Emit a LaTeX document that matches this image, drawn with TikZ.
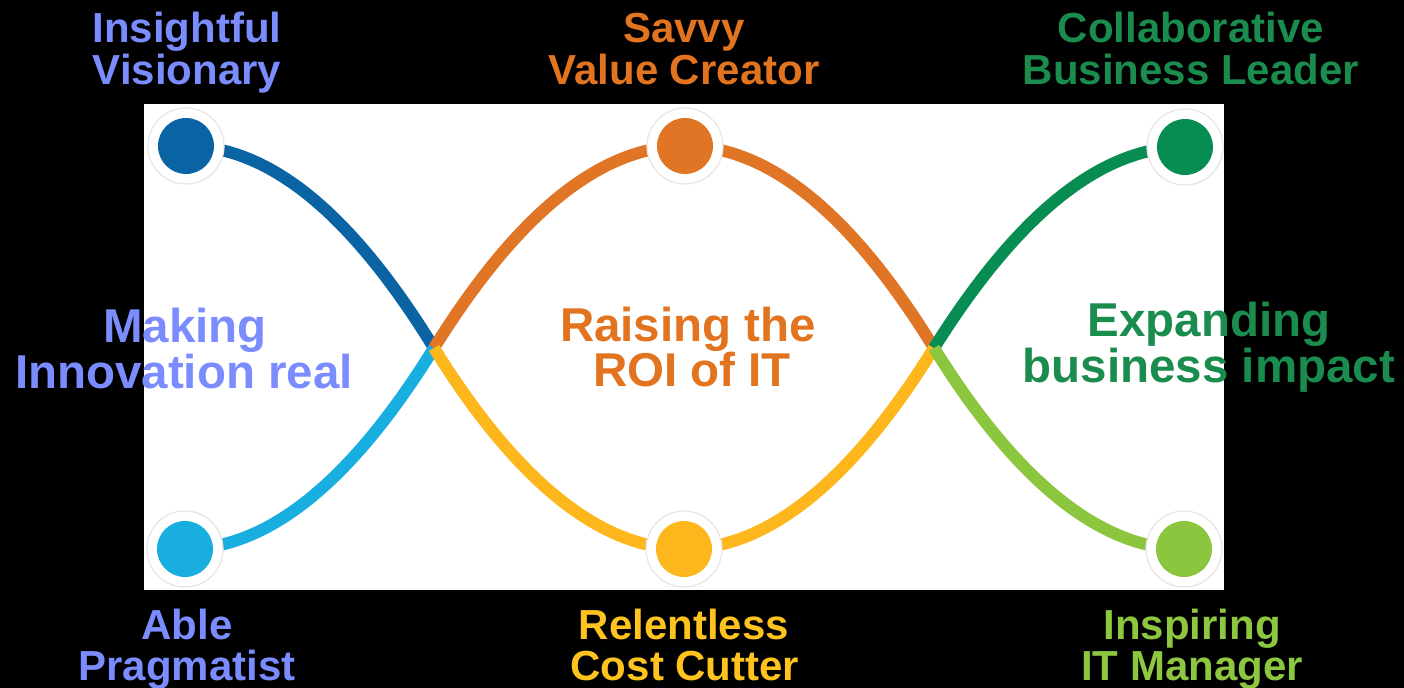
\documentclass[tikz,border=0pt]{standalone}
\usepackage{fontspec}
\setmainfont{Liberation Sans}
\definecolor{dblue}{HTML}{0A64A4}
\definecolor{lblue}{HTML}{19AEE0}
\definecolor{orng}{HTML}{E07526}
\definecolor{yllw}{HTML}{FDB71C}
\definecolor{dgreen}{HTML}{078C52}
\definecolor{lgreen}{HTML}{8CC63F}
\definecolor{tblue}{HTML}{7B8CFF}
\definecolor{torng}{HTML}{E27420}
\definecolor{tgreen}{HTML}{1A8C4E}
\definecolor{tyllw}{HTML}{FFC31F}
\definecolor{tlgreen}{HTML}{8DC63F}
\definecolor{ringgray}{HTML}{EAE4E4}
\begin{document}
\begin{tikzpicture}[x=0.5pt,y=-0.5pt,
  curve/.style={line width=6pt},
  ring/.style={circle,fill=white,draw=ringgray,line width=0.6pt,minimum size=38pt,inner sep=0pt},
  dot/.style={circle,minimum size=28pt,inner sep=0pt},
  corner/.style={anchor=base,inner sep=0pt,font=\bfseries\fontsize{21}{21}\selectfont},
  middle/.style={anchor=base,inner sep=0pt,font=\bfseries\fontsize{23.75}{24}\selectfont}]
\fill[black] (0,0) rectangle (1404,688);
\useasboundingbox (0,0) rectangle (1404,688);
\fill[white] (144,104) rectangle (1224,590);
% anchor points
\coordinate (c1) at (186,146);
\coordinate (c2) at (685,146);
\coordinate (c3) at (1185,147);
\coordinate (c4) at (185,549);
\coordinate (c5) at (684,549);
\coordinate (c6) at (1184,549);
\coordinate (x1) at (434,348);
\coordinate (x2) at (934,348);
% curves
\draw[curve,dblue] (c1) .. controls +(83,0) and +(-83,-135) .. (x1);
\draw[curve,lblue] (c4) .. controls +(83,0) and +(-83,134) .. (x1);
\draw[curve,orng] (x1) .. controls +(84,-135) and +(-84,0) .. (c2) .. controls +(83,0) and +(-83,-135) .. (x2);
\draw[curve,yllw] (x1) .. controls +(83,134) and +(-83,0) .. (c5) .. controls +(83,0) and +(-83,134) .. (x2);
\draw[curve,dgreen] (x2) .. controls +(84,-134) and +(-84,0) .. (c3);
\draw[curve,lgreen] (x2) .. controls +(83,134) and +(-83,0) .. (c6);
% circles
\node[ring] (r1) at (c1) {}; \node[dot,fill=dblue] (d1) at (c1) {};
\node[ring] (r2) at (c2) {}; \node[dot,fill=orng] (d2) at (c2) {};
\node[ring] (r3) at (c3) {}; \node[dot,fill=dgreen] (d3) at (c3) {};
\node[ring] (r4) at (c4) {}; \node[dot,fill=lblue] (d4) at (c4) {};
\node[ring] (r5) at (c5) {}; \node[dot,fill=yllw] (d5) at (c5) {};
\node[ring] (r6) at (c6) {}; \node[dot,fill=lgreen] (d6) at (c6) {};
% corner labels
\node[corner,text=tblue] (t1a) at (187,43) {Insightful};
\node[corner,text=tblue] (t1b) at (187,85) {Visionary};
\node[corner,text=torng] (t2a) at (684,43) {Savvy};
\node[corner,text=torng] (t2b) at (684,85) {Value Creator};
\node[corner,text=tgreen] (t3a) at (1191,43) {Collaborative};
\node[corner,text=tgreen] (t3b) at (1191,85) {Business Leader};
\node[corner,text=tblue] (t4a) at (187,640) {Able};
\node[corner,text=tblue] (t4b) at (187,681) {Pragmatist};
\node[corner,text=tyllw] (t5a) at (684,640) {Relentless};
\node[corner,text=tyllw] (t5b) at (685,681) {Cost Cutter};
\node[corner,text=tlgreen] (t6a) at (1192,640) {Inspiring};
\node[corner,text=tlgreen] (t6b) at (1192,681) {IT Manager};
% middle labels
\node[middle,text=tblue] (m1a) at (185,343) {Making};
\node[middle,text=tblue] (m1b) at (184,389) {Innovation real};
\node[middle,text=torng] (m2a) at (688,342) {Raising the};
\node[middle,text=torng] (m2b) at (692,387) {ROI of IT};
\node[middle,text=tgreen] (m3a) at (1209,337) {Expanding};
\node[middle,text=tgreen] (m3b) at (1209,383) {business impact};
\end{tikzpicture}
\end{document}
